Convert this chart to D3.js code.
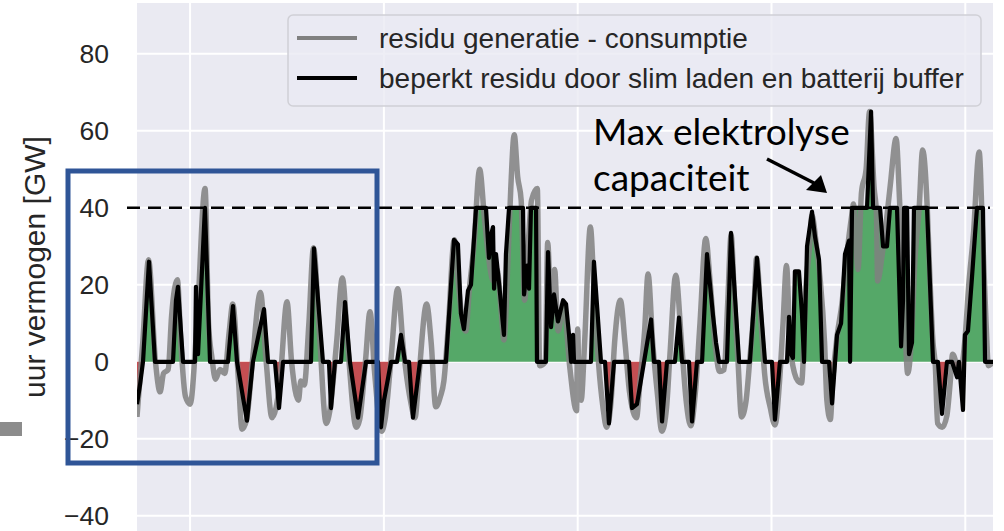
<!DOCTYPE html>
<html>
<head>
<meta charset="utf-8">
<script src="https://cdn.jsdelivr.net/npm/d3@7"></script>
<style>
  body { margin: 0; background: #fff; }
  svg { display: block; }
</style>
</head>
<body>
<div id="chart"></div>
<script>
// residu generatie - consumptie [uur, GW]
const residu = [
  [0,-14.3],[5,5],[10,26.5],[16,0],[20,-7.8],[23,-3],[27,-2],[30,12],[35,21.3],[38,5],[42,-9],[46,-11],
  [52,10],[59,45],[62,10],[65,1],[68,-4.5],[72,-2],[76,-3],[80,8],[83,15],[88,-5],[91,-17.5],[95,-15],
  [100,0],[107,18],[112,0],[117,-14.5],[124,-5],[130,15.6],[134,0],[140,-10],[142,-5],[145,-6],[149,10],
  [153,29.6],[158,8],[164,-16],[167,-13],[173,5],[178,21.8],[183,3],[190,-17],[193,-15],[198,0],[202,13],
  [206,-3],[212,-18],[215,-15],[220,0],[226,19],[231,3],[237,-10],[241,-14.5],[244,-5],[251,15],[255,5],
  [259,-11.7],[263,-9],[266,-5],[270,10],[275,31.7],[278,22],[283,9],[285,8],[288,18.5],[292,30],[297,50],
  [301,38],[304,29],[309,21],[312,24],[316,12],[318,5.7],[322,30],[324,45],[327,59],[330,48],[333,42],
  [336,16],[339,30],[342,42],[347,45],[349,-1],[354,0],[356,31],[359,12],[362,24],[365,8],[370,15],
  [375,-1],[381,-12.7],[382,8.5],[383,-5],[385,-10],[388,5],[393,35],[396,20],[400,0],[404,-12],[407,-17],
  [411,-10],[414,5],[419,16],[423,5],[427,-8],[433,-14.5],[436,-5],[440,8],[443,22.8],[447,5],[451,-8],
  [455,-18],[459,-12],[462,2],[467,22.5],[472,5],[476,-10],[480,-16.6],[484,-8],[488,10],[493,32],[497,20],
  [501,5],[505,-2.5],[509,-2],[512,15],[515,33],[518,15],[521,0],[524,-14.3],[528,-10],[531,0],[535,15],
  [537,27],[541,10],[544,-3],[549,-12],[553,-16.4],[557,-5],[560,10],[563,25],[566,5],[570,-3],[573,-5],
  [576,-5.5],[580,20],[583,30],[585,38],[589,30],[592,22],[596,5],[598,-10],[601,-15],[603,-5],[607,7],
  [611,15],[615,27],[620,39],[621,41],[625,24],[628,44],[632,50],[635,65],[639,45],[641,38.5],[642,21],
  [646,28],[649,35],[653,46],[658,58],[661,42],[664,20],[666,7],[668,-3],[672,10],[674,24.6],[678,40],
  [681,55],[685,40],[687,24],[690,5],[692,-1],[694,-16],[698,-17],[702,-14],[705,-5],[707,2],[711,-1],
  [714,-2],[718,7],[721,20],[725,33],[730,54.5],[733,33],[736,10],[738,-1],[742,0]
];

// beperkt residu door slim laden en batterij buffer [uur, GW]
const beperkt = [
  [0,-11],[2.6,-6],[5.2,0],[10.4,26],[15.6,0],[31.2,0],[33.8,16],[35.5,19.5],[39.9,0],[50.3,0],[51.1,19.5],
  [52.9,2],[58.9,40],[63.3,0],[78.9,0],[83.2,14.5],[86.7,0],[95.3,-15.3],[100.5,0],[110.1,13.7],[113.6,0],
  [119.6,0],[123.1,-12],[126.6,0],[150.8,0],[153.4,29.5],[161.2,0],[166.4,0],[168.2,-12],[171.6,0],
  [176.8,0],[180.3,15.5],[184.6,0],[191.6,-14.5],[198.5,0],[208.9,0],[211.5,-17],[214.1,-10],[220.2,0],
  [225.4,0],[228.8,7],[232.3,0],[235.8,0],[239.2,-14.5],[245.3,0],[267.8,0],[274.8,31.7],[278.2,30.5],
  [280.8,12.5],[283.4,8.5],[286.9,18.5],[289.5,20],[293.9,40],[302.5,40],[305.1,27],[306.9,33],[308.6,35],
  [309.5,19],[311.2,28],[313.8,20.5],[318.1,7],[319.8,28],[322.5,40],[334.6,40],[335.5,17.5],[338.1,25],
  [339.8,19],[341.5,40],[345.9,40],[346.7,0],[354.5,0],[356.3,28.5],[358.9,9],[361.5,17.5],[364.9,10.5],
  [369.3,16],[371.9,15],[374.5,7],[376.3,0],[378,7],[378.8,0],[393.5,0],[396.1,26],[402.2,0],[405.7,0],
  [409.1,-16],[413.5,0],[426.5,0],[429.1,-12],[433.4,-11],[439.5,0],[445.6,11],[448.1,0],[452.5,0],
  [455.1,-15.5],[459.4,0],[466.3,0],[469.8,11.5],[472.4,0],[478.5,0],[481.1,-15.5],[485.4,0],[489.8,0],
  [494.1,28],[496.7,20],[499.3,12],[501.9,5],[504.5,0],[511.4,0],[514.9,33.5],[521.9,0],[531.3,0],
  [537.4,27],[544.4,0],[550.4,0],[553,-15],[557.3,0],[563.4,0],[565.2,11.7],[566.9,2],[568.6,1],
  [570.3,23.5],[573.8,23.5],[576.4,12.5],[578.2,0],[580.8,30],[585.1,39],[587.7,32.5],[591.2,26.5],
  [593.8,0],[599.9,0],[602.5,-10.8],[606.8,7],[610.3,10],[613.7,28],[617.2,31.5],[618.1,0],[619.8,40],
  [632.8,40],[636.3,65],[638,40],[644.1,40],[646.7,30],[650.1,30],[652.7,40],[658.8,40],[662.3,4],
  [664,16],[664.9,40],[667.5,40],[669.2,2],[671.8,5],[673.5,40],[684.8,40],[687.4,20],[690,0],[694.3,0],
  [697.8,-13.5],[702.1,0],[706.5,0],[710.8,-4],[712.5,0],[716,-12.5],[717.7,7],[720.3,8],[723.8,22],
  [726.4,33],[728.1,40],[733.3,40],[735.1,0],[742,0]
];

const yTicks = [-40, -20, 0, 20, 40, 60, 80];
const weekTicks = [46, 214, 382, 550, 718];
const maxElektrolyse = 40;
const legendLabels = ["residu generatie - consumptie", "beperkt residu door slim laden en batterij buffer"];
const yLabel = "uur vermogen [GW]";
const annotationLines = ["Max elektrolyse", "capaciteit"];

const width = 1004, height = 531;
const plot = { left: 137, right: 993, top: 3, bottom: 531 };

const svg = d3.select("#chart").append("svg")
  .attr("width", width)
  .attr("height", height)
  .style("font-family", "'Liberation Sans', Arial, sans-serif");

const x = d3.scaleLinear().domain([0, 742]).range([plot.left, plot.right]);
const y = d3.scaleLinear().domain([-44.2, 93.2]).range([532, 3]);

svg.append("defs").append("clipPath").attr("id", "plotclip")
  .append("rect")
  .attr("x", plot.left).attr("y", plot.top)
  .attr("width", plot.right - plot.left).attr("height", plot.bottom - plot.top);

// background
svg.append("rect")
  .attr("x", plot.left).attr("y", plot.top)
  .attr("width", plot.right - plot.left).attr("height", plot.bottom - plot.top)
  .attr("fill", "#eaeaf2");

// grid
const grid = svg.append("g").attr("clip-path", "url(#plotclip)");
grid.selectAll(".hgrid").data(yTicks).enter().append("line")
  .attr("x1", plot.left).attr("x2", plot.right)
  .attr("y1", d => y(d)).attr("y2", d => y(d))
  .attr("stroke", "#fff").attr("stroke-width", 2);
grid.selectAll(".vgrid").data(weekTicks).enter().append("line")
  .attr("x1", d => x(d)).attr("x2", d => x(d))
  .attr("y1", plot.top).attr("y2", plot.bottom)
  .attr("stroke", "#fff").attr("stroke-width", 2);

// y tick labels
const yAxis = svg.append("g")
  .attr("transform", `translate(${plot.left},0)`)
  .call(d3.axisLeft(y).tickValues(yTicks).tickSize(0).tickPadding(28));
yAxis.select(".domain").remove();
yAxis.selectAll("text")
  .style("font-family", "'Liberation Sans', Arial, sans-serif")
  .style("font-size", "26.5px")
  .attr("fill", "#262626");

svg.append("text")
  .attr("transform", "translate(45,267) rotate(-90)")
  .attr("text-anchor", "middle")
  .style("font-size", "30px")
  .attr("fill", "#262626")
  .text(yLabel);

// insert zero crossings so fills stop exactly at 0
function splitAtZero(pts) {
  const out = [];
  pts.forEach((p, i) => {
    if (i > 0) {
      const q = pts[i - 1];
      if ((q[1] < 0 && p[1] > 0) || (q[1] > 0 && p[1] < 0)) {
        const t = q[1] / (q[1] - p[1]);
        out.push([q[0] + t * (p[0] - q[0]), 0]);
      }
    }
    out.push(p);
  });
  return out;
}

const marks = svg.append("g").attr("clip-path", "url(#plotclip)");
const filled = splitAtZero(beperkt);

marks.append("path")
  .datum(filled)
  .attr("fill", "#55a868")
  .attr("d", d3.area().x(d => x(d[0])).y0(y(0)).y1(d => y(Math.max(d[1], 0))));

marks.append("path")
  .datum(filled)
  .attr("fill", "#c44e52")
  .attr("d", d3.area().x(d => x(d[0])).y0(y(0)).y1(d => y(Math.min(d[1], 0))));

marks.append("path")
  .datum(residu)
  .attr("fill", "none")
  .attr("stroke", "#808080")
  .attr("stroke-opacity", 0.85)
  .attr("stroke-width", 5.5)
  .attr("stroke-linejoin", "round")
  .attr("d", d3.line().x(d => x(d[0])).y(d => y(d[1])).curve(d3.curveMonotoneX));

marks.append("path")
  .datum(beperkt)
  .attr("fill", "none")
  .attr("stroke", "#000")
  .attr("stroke-width", 4.2)
  .attr("stroke-linejoin", "round")
  .attr("d", d3.line().x(d => x(d[0])).y(d => y(d[1])));

// max electrolysis capacity line
svg.append("line")
  .attr("x1", 127).attr("x2", 990)
  .attr("y1", y(maxElektrolyse)).attr("y2", y(maxElektrolyse))
  .attr("stroke", "#000")
  .attr("stroke-width", 2.6)
  .attr("stroke-dasharray", "13,8");

// legend
const legend = svg.append("g");
legend.append("rect")
  .attr("x", 288).attr("y", 15)
  .attr("width", 693).attr("height", 91)
  .attr("rx", 5)
  .attr("fill", "#eaeaf2").attr("fill-opacity", 0.8)
  .attr("stroke", "#d0d0d6").attr("stroke-width", 1.5);
const legendColors = ["#808080", "#000"];
legendLabels.forEach((lab, i) => {
  const ly = 38 + i * 40;
  legend.append("line")
    .attr("x1", 297).attr("x2", 357)
    .attr("y1", ly).attr("y2", ly)
    .attr("stroke", legendColors[i]).attr("stroke-width", 4);
  legend.append("text")
    .attr("x", 379).attr("y", ly).attr("dy", "0.35em")
    .style("font-size", "28px")
    .attr("fill", "#262626")
    .text(lab);
});

// annotation
const ann = svg.append("g").style("font-family", "Lato, 'Open Sans', sans-serif");
annotationLines.forEach((t, i) => {
  ann.append("text")
    .attr("x", 593).attr("y", 145 + i * 46)
    .style("font-size", "37px")
    .attr("fill", "#000")
    .text(t);
});
ann.append("line")
  .attr("x1", 767).attr("y1", 159)
  .attr("x2", 814).attr("y2", 183)
  .attr("stroke", "#000").attr("stroke-width", 3.5);
ann.append("polygon")
  .attr("points", "827,193 806,190 821,175")
  .attr("fill", "#000");

// highlight box and side marker
svg.append("rect")
  .attr("x", 68).attr("y", 171)
  .attr("width", 309).attr("height", 292)
  .attr("fill", "none")
  .attr("stroke", "#2f5597").attr("stroke-width", 5);
svg.append("rect")
  .attr("x", 0).attr("y", 422)
  .attr("width", 22).attr("height", 14)
  .attr("fill", "#8c8c8c");
</script>
</body>
</html>
